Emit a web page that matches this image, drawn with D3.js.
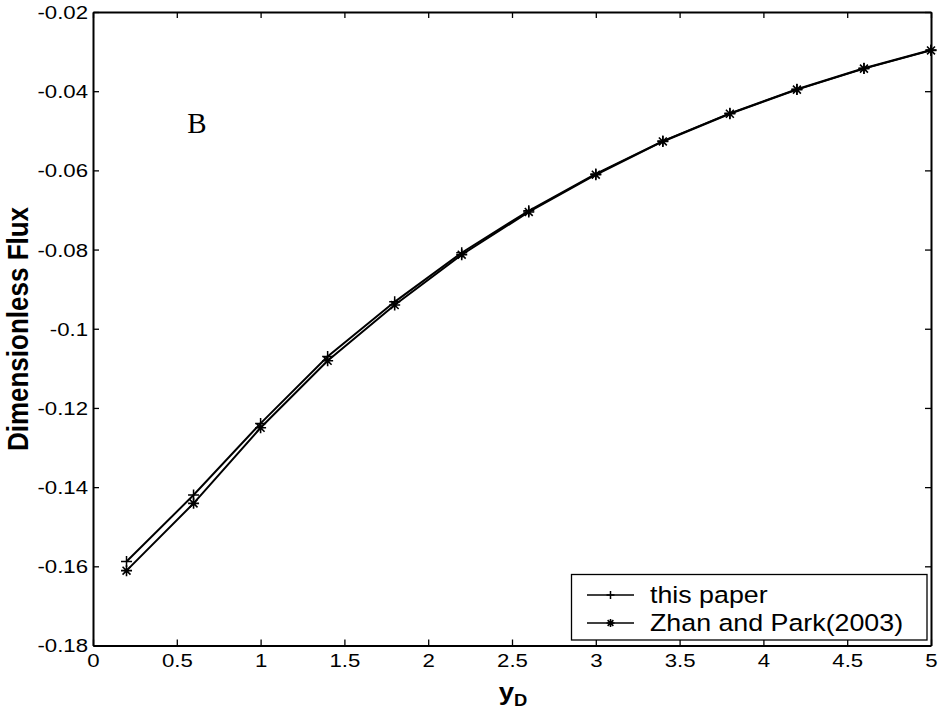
<!DOCTYPE html>
<html>
<head>
<meta charset="utf-8">
<script src="https://cdn.jsdelivr.net/npm/d3@7.9.0/dist/d3.min.js"></script>
<style>
  body { margin: 0; background: #fff; }
  svg { display: block; }
  text { font-family: Arial, "Liberation Sans", sans-serif; fill: #000; }
</style>
</head>
<body>
<svg id="chart" width="938" height="713"></svg>
<script>
// data
const xD = [0.2, 0.6, 1.0, 1.4, 1.8, 2.2, 2.6, 3.0, 3.4, 3.8, 4.2, 4.6, 5.0];
const thisPaper = [-0.1588, -0.1420, -0.1239, -0.1070, -0.0932, -0.0808, -0.0702, -0.0609, -0.0526, -0.0456, -0.0395, -0.0342, -0.0296];
const zhanPark = [-0.1611, -0.1441, -0.1250, -0.1081, -0.0940, -0.0813, -0.0705, -0.0611, -0.0527, -0.0457, -0.0396, -0.0343, -0.0297];
const xTicks = [0, 0.5, 1, 1.5, 2, 2.5, 3, 3.5, 4, 4.5, 5];
const yTicks = [-0.18, -0.16, -0.14, -0.12, -0.1, -0.08, -0.06, -0.04, -0.02];
const seriesNames = ['this paper', 'Zhan and Park(2003)'];

const svg = d3.select('#chart');
const plotL = 93, plotR = 931, plotT = 12, plotB = 645.5;
const sx = 1.2; // the picture is a bit wider than tall

let x = d3.scaleLinear().domain([0, 5]).range([plotL, plotR]);
let y = d3.scaleLinear().domain([-0.18, -0.02]).range([plotB, plotT]);

const fmt = (d) => String(+d.toFixed(2));

// axes, ticks inward on all four sides
const gx = svg.append('g').attr('transform', `translate(0,${plotB})`)
  .call(d3.axisBottom(x).tickValues(xTicks).tickSize(-6).tickSizeOuter(0).tickFormat(fmt));
gx.selectAll('text').attr('y', 8).attr('dy', '0.71em')
  .attr('font-size', 18.5).attr('transform', `scale(${sx},1)`);

svg.append('g').attr('transform', `translate(0,${plotT})`)
  .call(d3.axisTop(x).tickValues(xTicks).tickSize(-6).tickSizeOuter(0).tickFormat(''));

const gy = svg.append('g').attr('transform', `translate(${plotL},0)`)
  .call(d3.axisLeft(y).tickValues(yTicks).tickSize(-6).tickSizeOuter(0).tickFormat(fmt));
gy.selectAll('text').attr('x', -5 / sx).attr('dy', '0.35em')
  .attr('font-size', 18.5).attr('transform', `scale(${sx},1)`);

svg.append('g').attr('transform', `translate(${plotR},0)`)
  .call(d3.axisRight(y).tickValues(yTicks).tickSize(-6).tickSizeOuter(0).tickFormat(''));

svg.selectAll('.domain').attr('stroke', '#000').attr('stroke-width', 2);
svg.selectAll('.tick line').attr('stroke', '#000').attr('stroke-width', 1.3);

// lines
const line = d3.line().x((d) => x(d[0])).y((d) => y(d[1]));
const series = [thisPaper, zhanPark].map((vals) => xD.map((v, i) => [v, vals[i]]));

series.forEach((pts) => {
  svg.append('path').attr('d', line(pts)).attr('fill', 'none')
    .attr('stroke', '#000').attr('stroke-width', 2);
});

// markers: '+' and '*'
function plus(g, cx, cy, r) {
  g.append('path').attr('d', `M${cx - r},${cy}H${cx + r}M${cx},${cy - r}V${cy + r}`)
    .attr('stroke', '#000').attr('stroke-width', 1.5).attr('fill', 'none');
}
function star(g, cx, cy, r) {
  const k = r * 0.72;
  g.append('path').attr('d', `M${cx - r},${cy}H${cx + r}M${cx},${cy - r}V${cy + r}` +
      `M${cx - k},${cy - k}L${cx + k},${cy + k}M${cx - k},${cy + k}L${cx + k},${cy - k}`)
    .attr('stroke', '#000').attr('stroke-width', 1.6).attr('fill', 'none');
}
const markers = [plus, star];
series.forEach((pts, s) => {
  const g = svg.append('g');
  pts.forEach((d) => markers[s](g, x(d[0]), y(d[1]), 5.5));
});

// legend
const lg = svg.append('g');
lg.append('rect').attr('x', 571.5).attr('y', 574.5).attr('width', 355.5).attr('height', 65.5)
  .attr('fill', '#fff').attr('stroke', '#000').attr('stroke-width', 1.3);
seriesNames.forEach((name, i) => {
  const ly = 595 + i * 28;
  lg.append('line').attr('x1', 587).attr('x2', 634).attr('y1', ly).attr('y2', ly)
    .attr('stroke', '#000').attr('stroke-width', 1.3);
  markers[i](lg, 610.5, ly, 4);
  lg.append('text').attr('transform', `translate(650,${ly}) scale(1.14,1)`)
    .attr('dy', '0.35em').attr('font-size', 23.5).text(name);
});

// annotation
svg.append('text').attr('x', 197).attr('y', 133).attr('text-anchor', 'middle')
  .style('font-family', '"Liberation Serif", "Times New Roman", serif')
  .attr('font-size', 29).text('B');

// axis labels
svg.append('text').attr('transform', `translate(28,329) scale(1.1,1) rotate(-90)`)
  .attr('text-anchor', 'middle').attr('font-size', 26).attr('font-weight', 'bold')
  .text('Dimensionless Flux');

const xl = svg.append('text').attr('transform', `translate(513,700) scale(1.15,1)`)
  .attr('text-anchor', 'middle').attr('font-weight', 'bold');
xl.append('tspan').attr('font-size', 24).text('y');
xl.append('tspan').attr('font-size', 16).attr('dy', 6).text('D');
</script>
</body>
</html>
